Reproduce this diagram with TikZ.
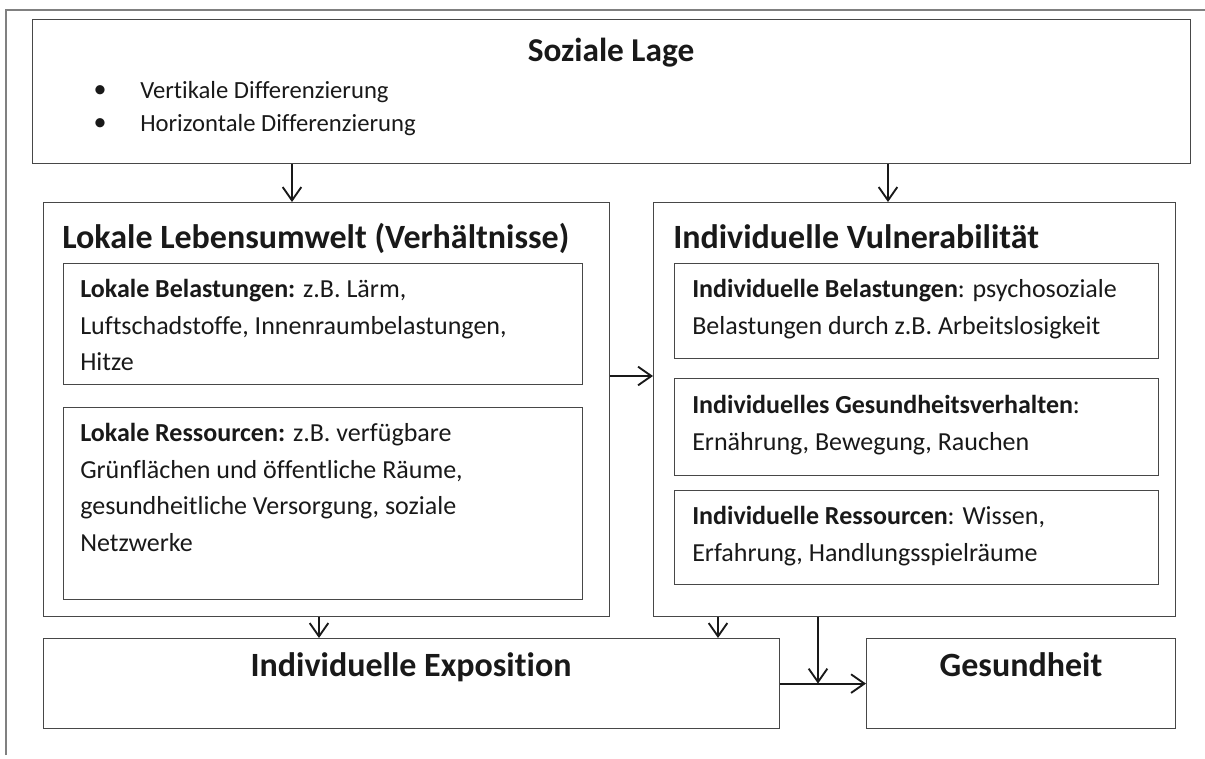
\documentclass[tikz,border=0pt]{standalone}
\usepackage{fontspec}
\setmainfont{Carlito}[Ligatures=NoCommon]
\usetikzlibrary{arrows.meta,positioning}

\newdimen\pxu
\pxu=0.75pt

\tikzset{
  box/.style={draw=black!72, line width=0.9pt, inner sep=0pt, anchor=north west},
  txt/.style={inner sep=0pt, anchor=north west, align=left, text=black!90,
    font=\fontsize{19.5}{27.4}\selectfont},
  head/.style={inner sep=0pt, anchor=base, text=black!90, font=\bfseries\fontsize{25.5}{30}\selectfont},
  pfeil/.style={draw=black!90, line width=1.4pt, -{Straight Barb[length=10pt,width=14pt,line width=1.4pt]}},
}

\begin{document}
\begin{tikzpicture}[x=0.75pt,y=-0.75pt]
  \useasboundingbox (0,0) rectangle (1205,758);

  % Rahmen
  \draw[black!50, line width=1.1pt] (6,755) -- (6,10) -- (1205,10);

  % Soziale Lage
  \node[box, minimum width=1158\pxu, minimum height=144\pxu] (soziale) at (32,19) {};
  \node[head, font=\bfseries\fontsize{25}{30}\selectfont] (sozialetitel) at (611,61) {Soziale Lage};
  \node[txt, anchor=center] (bullet1) at (100,92) {\textbullet};
  \node[txt, anchor=center] (bullet2) at (100,125) {\textbullet};
  \node[txt, anchor=base west, font=\fontsize{18.5}{24.75}\selectfont] (vertikal) at (140,98) {Vertikale Differenzierung};
  \node[txt, anchor=base west, font=\fontsize{18.5}{24.75}\selectfont] (horizontal) at (140,131) {Horizontale Differenzierung};

  % Lokale Lebensumwelt
  \node[box, minimum width=566\pxu, minimum height=414\pxu] (lokal) at (43,202) {};
  \node[head, anchor=base west] (lokaltitel) at (62,248) {Lokale Lebensumwelt (Verhältnisse)};
  \node[box, minimum width=519\pxu, minimum height=121\pxu] (lokbel) at (63,263) {};
  \node[txt] (lokbeltxt) at (80,279) {\textbf{Lokale Belastungen:} z.B. Lärm,\\
    Luftschadstoffe, Innenraumbelastungen,\\ Hitze};
  \node[box, minimum width=519\pxu, minimum height=192\pxu] (lokres) at (63,407) {};
  \node[txt] (lokrestxt) at (80,423) {\textbf{Lokale Ressourcen:} z.B. verfügbare\\
    Grünflächen und öffentliche Räume,\\ gesundheitliche Versorgung, soziale\\ Netzwerke};

  % Individuelle Vulnerabilitaet
  \node[box, minimum width=522\pxu, minimum height=414\pxu] (indiv) at (653,202) {};
  \node[head, anchor=base west] (indivtitel) at (673,248) {Individuelle Vulnerabilität};
  \node[box, minimum width=484\pxu, minimum height=95\pxu] (indbel) at (674,263) {};
  \node[txt] (indbeltxt) at (692,279) {\textbf{Individuelle Belastungen}: psychosoziale\\
    Belastungen durch z.B. Arbeitslosigkeit};
  \node[box, minimum width=484\pxu, minimum height=97\pxu] (indverh) at (674,378) {};
  \node[txt] (indverhtxt) at (692,395) {\textbf{Individuelles Gesundheitsverhalten}:\\
    Ernährung, Bewegung, Rauchen};
  \node[box, minimum width=484\pxu, minimum height=94\pxu] (indres) at (674,490) {};
  \node[txt] (indrestxt) at (692,506) {\textbf{Individuelle Ressourcen}: Wissen,\\
    Erfahrung, Handlungsspielräume};

  % Exposition und Gesundheit
  \node[box, minimum width=736\pxu, minimum height=90\pxu] (expo) at (43,638) {};
  \node[head] (expotitel) at (411,676) {Individuelle Exposition};
  \node[box, minimum width=309\pxu, minimum height=90\pxu] (gesund) at (866,638) {};
  \node[head] (gesundtitel) at (1021,676) {Gesundheit};

  % Pfeile
  \coordinate (p1) at (292,0);
  \coordinate (p2) at (888,0);
  \coordinate (p3) at (319,0);
  \coordinate (p4) at (718,0);
  \coordinate (p5) at (818,0);
  \coordinate (q1) at (0,376);
  \draw[pfeil] (soziale.south -| p1) -- (lokal.north -| p1);
  \draw[pfeil] (soziale.south -| p2) -- (indiv.north -| p2);
  \draw[pfeil] (lokal.east |- q1) -- (indiv.west |- q1);
  \draw[pfeil] (lokal.south -| p3) -- (expo.north -| p3);
  \draw[pfeil] (indiv.south -| p4) -- (expo.north -| p4);
  \draw[pfeil] (indiv.south -| p5) -- (expo.east -| p5);
  \draw[pfeil] (expo.east) -- (gesund.west);
\end{tikzpicture}
\end{document}
